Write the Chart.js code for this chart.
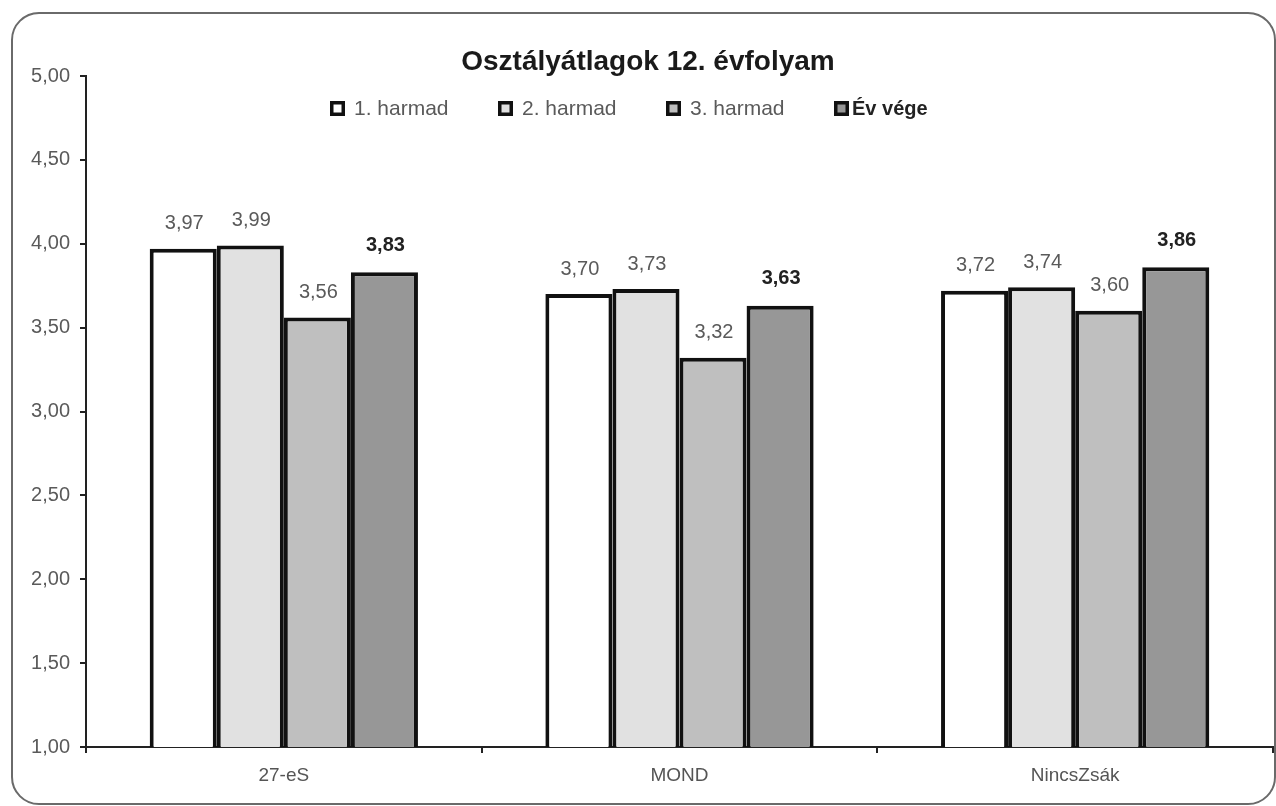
<!DOCTYPE html>
<html>
<head>
<meta charset="utf-8">
<script src="https://cdn.jsdelivr.net/npm/chart.js@4"></script>
<style>
  body { margin: 0; background: #fff; }
  #frame {
    position: absolute; left: 11px; top: 12px;
    width: 1261px; height: 789px;
    border: 2px solid #6a6a6a; border-radius: 28px;
  }
  #chart { position: absolute; left: 0; top: 0; }
</style>
</head>
<body>
<div id="frame"></div>
<canvas id="chart" width="1276" height="806"></canvas>
<script>
// DATA
const categories = ["27-eS", "MOND", "NincsZsák"];
const seriesNames = ["1. harmad", "2. harmad", "3. harmad", "Év vége"];
const harmad1 = [3.97, 3.70, 3.72];
const harmad2 = [3.99, 3.73, 3.74];
const harmad3 = [3.56, 3.32, 3.60];
const evVege = [3.83, 3.63, 3.86];
const yTicks = [1, 1.5, 2, 2.5, 3, 3.5, 4, 4.5, 5];

const fills = ["#ffffff", "#e1e1e1", "#bfbfbf", "#979797"];
const FONT = "'Liberation Sans', Arial, sans-serif";

const fmt = v => v.toFixed(2).replace(".", ",");

// value labels above bars, last series in bold
const valueLabels = {
  id: "valueLabels",
  afterDatasetsDraw(chart) {
    const ctx = chart.ctx;
    ctx.save();
    ctx.textAlign = "center";
    ctx.textBaseline = "bottom";
    chart.data.datasets.forEach((ds, i) => {
      const bold = i === chart.data.datasets.length - 1;
      ctx.font = (bold ? "bold 20px " : "20px ") + FONT;
      ctx.fillStyle = bold ? "#222" : "#5a5a5a";
      chart.getDatasetMeta(i).data.forEach((bar, j) => {
        ctx.fillText(fmt(ds.data[j]), bar.x + 1, bar.y - (bold ? 17 : 15));
      });
    });
    ctx.restore();
  }
};

// title and legend drawn over the plot, like the original
const titleLegend = {
  id: "titleLegend",
  afterDraw(chart) {
    const ctx = chart.ctx;
    ctx.save();
    ctx.fillStyle = "#1a1a1a";
    ctx.font = "bold 28px " + FONT;
    ctx.textAlign = "center";
    ctx.textBaseline = "middle";
    ctx.fillText("Osztályátlagok 12. évfolyam", 648, 62);

    ctx.textAlign = "left";
    chart.data.datasets.forEach((ds, i) => {
      const x = 330 + i * 168, y = 108;
      ctx.fillStyle = ds.backgroundColor;
      ctx.fillRect(x, y - 7, 15, 15);
      ctx.lineWidth = 3.5;
      ctx.strokeStyle = "#111";
      ctx.strokeRect(x + 1.75, y - 5.25, 11.5, 11.5);
      const bold = i === chart.data.datasets.length - 1;
      ctx.font = (bold ? "bold 20px " : "21px ") + FONT;
      ctx.fillStyle = bold ? "#222" : "#5a5a5a";
      ctx.fillText(ds.label, x + (bold ? 18 : 24), y + 1);
    });
    ctx.restore();
  }
};

const seriesData = [harmad1, harmad2, harmad3, evVege];

new Chart(document.getElementById("chart"), {
  type: "bar",
  data: {
    labels: categories,
    datasets: seriesData.map((d, i) => ({
      label: seriesNames[i],
      data: d,
      backgroundColor: fills[i],
      borderColor: "#111",
      borderWidth: 4,
      categoryPercentage: 0.678,
      barPercentage: 1.0
    }))
  },
  options: {
    responsive: false,
    animation: false,
    layout: { padding: { top: 76, right: 3, left: 0, bottom: 0 } },
    plugins: {
      legend: { display: false },
      title: { display: false },
      tooltip: { enabled: false }
    },
    scales: {
      x: {
        afterFit(scale) { scale.height = 59; },
        grid: { offset: true, drawOnChartArea: false, tickLength: 6, color: "#222", lineWidth: 2 },
        border: { display: true, color: "#222", width: 2 },
        ticks: { color: "#555", padding: 11, font: { family: FONT, size: 19 } }
      },
      y: {
        min: 1,
        max: 5,
        afterFit(scale) { scale.width = 86; },
        afterBuildTicks(scale) { scale.ticks = yTicks.map(v => ({ value: v })); },
        grid: { drawOnChartArea: false, tickLength: 6, color: "#222", lineWidth: 2 },
        border: { display: true, color: "#222", width: 2 },
        ticks: {
          color: "#5a5a5a",
          padding: 10,
          font: { family: FONT, size: 20 },
          callback: v => fmt(v)
        }
      }
    }
  },
  plugins: [valueLabels, titleLegend]
});
</script>
</body>
</html>
